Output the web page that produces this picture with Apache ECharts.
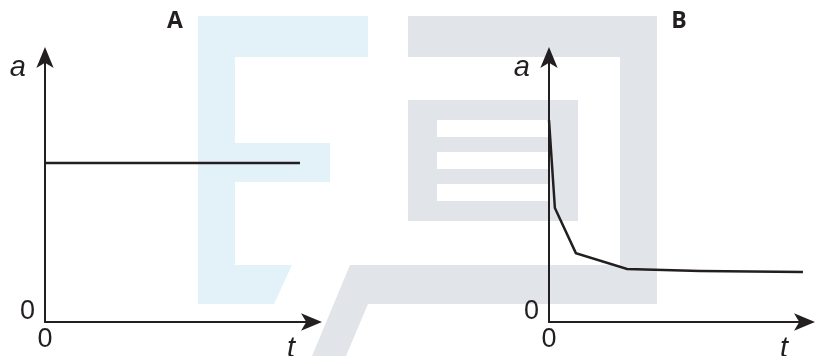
<!DOCTYPE html>
<html>
<head>
<meta charset="utf-8">
<script src="https://cdn.jsdelivr.net/npm/echarts@6/dist/echarts.min.js"></script>
<style>
html,body{margin:0;padding:0;background:#fff;}
#chart{width:815px;height:356px;}
</style>
</head>
<body>
<div id="chart"></div>
<script>
// ---- data ----
const panelTitles = ['A', 'B'];
const yName = 'a';
const xName = 't';
const zeroLabel = '0';
const tA = [0, 9.55];
const aA = [6.0, 6.0];
const tB = [0, 0.23, 1.05, 3.05, 5.9, 9.92];
const aB = [7.62, 4.30, 2.60, 2.00, 1.92, 1.89];

// ---- styles ----
const INK = '#231f20';
const BLUE = '#e3f2f8';
const GRAY = '#e1e5e9';
const numFont = '"Liberation Sans", Arial, sans-serif';

function pairs(xs, ys) { return xs.map((x, i) => [x, ys[i]]); }

function xAxisFor(gi) {
  return {
    gridIndex: gi, type: 'value', min: 0, max: 10, interval: 10,
    axisLine: { show: true, onZero: true, symbol: ['none', 'arrow'], symbolSize: [13, 21],
      symbolOffset: [0, 10], lineStyle: { color: INK, width: 2 } },
    axisTick: { show: false }, splitLine: { show: false },
    axisLabel: { formatter: v => (v === 0 ? zeroLabel : ''), color: INK, fontSize: 27,
      fontFamily: numFont, margin: 4 },
    name: xName, nameLocation: 'end', nameGap: -21,
    nameTextStyle: { fontStyle: 'italic', fontSize: 29, color: INK, fontFamily: 'Liberation Sans',
      align: 'center', verticalAlign: 'top', padding: [12, 0, 0, 0] }
  };
}
function yAxisFor(gi) {
  return {
    gridIndex: gi, type: 'value', min: 0, max: 10, interval: 10,
    axisLine: { show: true, symbol: ['none', 'arrow'], symbolSize: [13, 21],
      symbolOffset: [0, 10], lineStyle: { color: INK, width: 2 } },
    axisTick: { show: false }, splitLine: { show: false },
    axisLabel: { formatter: v => (v === 0 ? zeroLabel : ''), color: INK, fontSize: 27,
      fontFamily: numFont, margin: 10, verticalAlign: 'bottom', lineHeight: 20 },
    name: yName, nameLocation: 'end', nameGap: -11,
    nameTextStyle: { fontStyle: 'italic', fontSize: 29, color: INK, fontFamily: 'Liberation Sans',
      align: 'right', verticalAlign: 'middle', padding: [0, 19, 0, 0] }
  };
}

const wm = [
  // light blue "E"
  { type: 'rect', shape: { x: 198, y: 16, width: 170, height: 41 } },
  { type: 'rect', shape: { x: 198, y: 57, width: 37, height: 247 } },
  { type: 'rect', shape: { x: 235, y: 143, width: 95, height: 39 } },
  { type: 'polygon', shape: { points: [[235, 265], [292, 265], [274, 304], [235, 304]] } }
].map(e => Object.assign(e, { z: -10, silent: true, style: { fill: BLUE } }));
const wm2 = [
  { type: 'rect', shape: { x: 408, y: 16, width: 249, height: 41 } },
  { type: 'rect', shape: { x: 620, y: 57, width: 37, height: 247 } },
  { type: 'rect', shape: { x: 408, y: 100, width: 170, height: 20 } },
  { type: 'rect', shape: { x: 408, y: 137, width: 170, height: 15 } },
  { type: 'rect', shape: { x: 408, y: 169, width: 170, height: 15 } },
  { type: 'rect', shape: { x: 408, y: 201, width: 170, height: 20 } },
  { type: 'rect', shape: { x: 408, y: 120, width: 29, height: 81 } },
  { type: 'rect', shape: { x: 549, y: 120, width: 29, height: 81 } },
  { type: 'polygon', shape: { points: [[350, 265], [657, 265], [657, 304], [368, 304], [346, 356], [312, 356]] } }
].map(e => Object.assign(e, { z: -10, silent: true, style: { fill: GRAY } }));

const titleTexts = [
  { x: 175, text: panelTitles[0] },
  { x: 679, text: panelTitles[1] }
].map(t => ({
  type: 'text', x: t.x, y: 21, z: 10, silent: true,
  style: { text: t.text, fill: INK, font: 'bold 23px "Open Sans", "Liberation Sans", sans-serif',
    align: 'center', verticalAlign: 'middle' }
}));

const chart = echarts.init(document.getElementById('chart'), null, { renderer: 'canvas' });
chart.setOption({
  backgroundColor: '#ffffff',
  animation: false,
  graphic: { elements: wm.concat(wm2, titleTexts) },
  grid: [
    { left: 45, top: 57, width: 267, height: 265, containLabel: false, outerBoundsMode: 'none' },
    { left: 549, top: 57, width: 256, height: 265, containLabel: false, outerBoundsMode: 'none' }
  ],
  xAxis: [xAxisFor(0), xAxisFor(1)],
  yAxis: [yAxisFor(0), yAxisFor(1)],
  series: [
    { type: 'line', xAxisIndex: 0, yAxisIndex: 0, data: pairs(tA, aA), symbol: 'none',
      lineStyle: { color: INK, width: 2.5 }, z: 5 },
    { type: 'line', xAxisIndex: 1, yAxisIndex: 1, data: pairs(tB, aB), symbol: 'none',
      lineStyle: { color: INK, width: 2.5, join: 'miter' }, z: 5 }
  ]
});
</script>
</body>
</html>
